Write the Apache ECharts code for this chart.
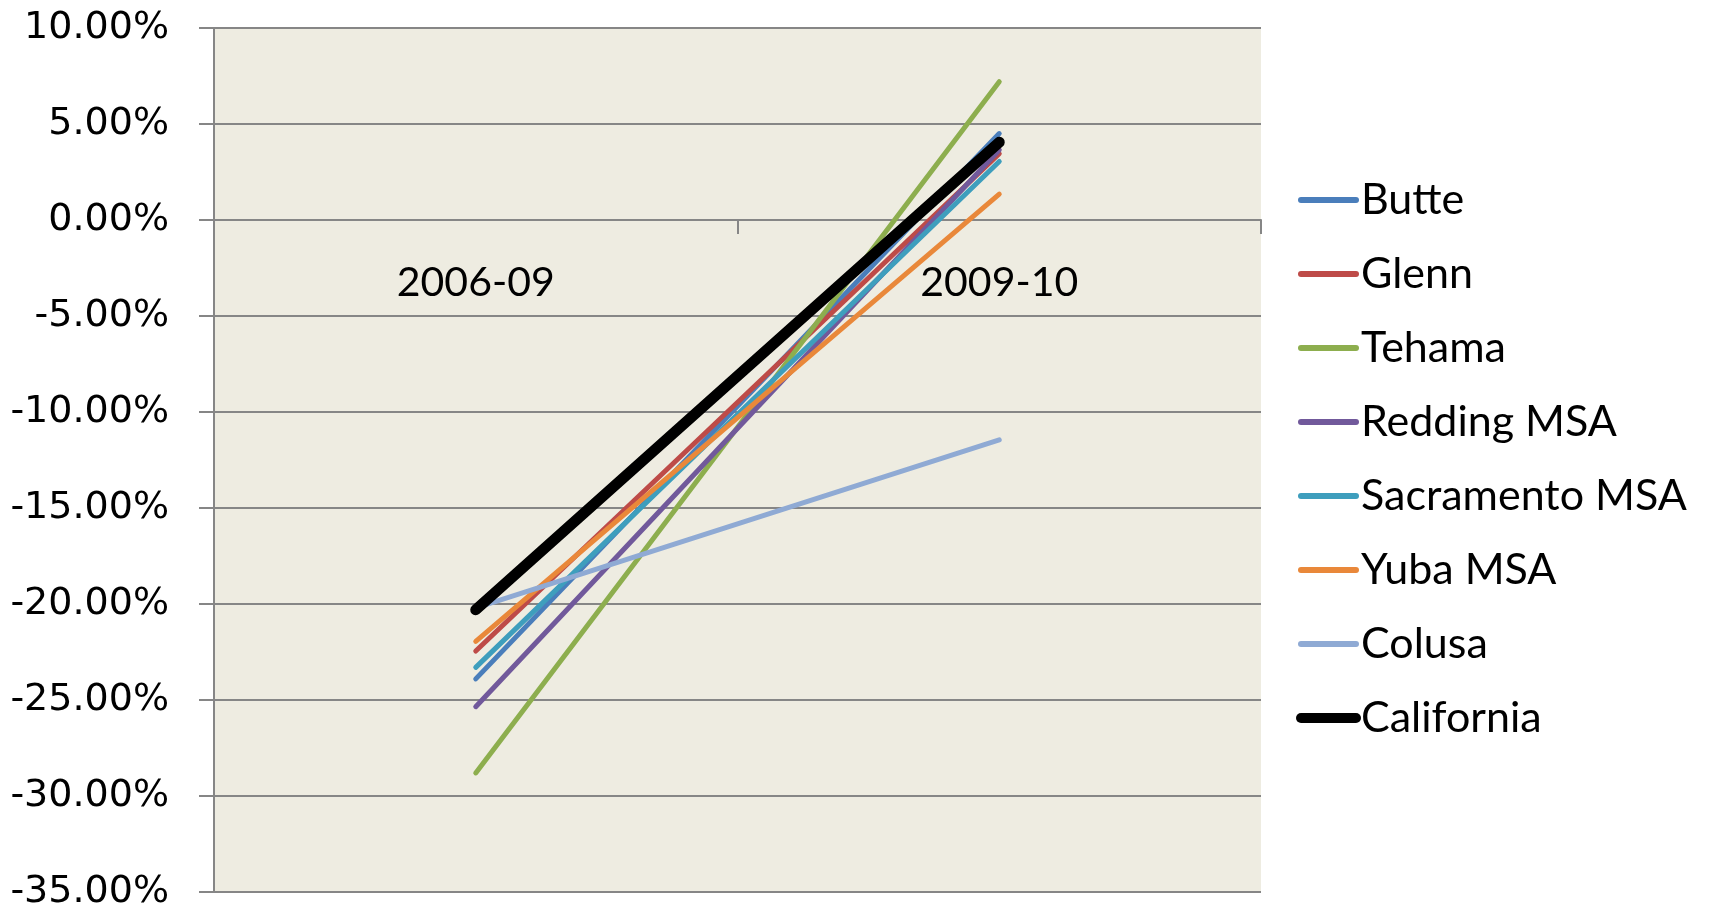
<!DOCTYPE html>
<html>
<head>
<meta charset="utf-8">
<script src="https://cdn.jsdelivr.net/npm/echarts@6/dist/echarts.min.js"></script>
<style>
  html, body { margin: 0; padding: 0; background: #ffffff; }
  #chart { width: 1713px; height: 910px; }
</style>
</head>
<body>
<div id="chart"></div>
<script>
// Percent change by region for two periods
const periods = ['2006-09', '2009-10'];
const butte      = [-23.9, 4.5];
const glenn      = [-22.45, 3.45];
const tehama     = [-28.8, 7.2];
const redding    = [-25.35, 3.65];
const sacramento = [-23.3, 3.05];
const yuba       = [-21.95, 1.35];
const colusa     = [-20.2, -11.45];
const california = [-20.3, 4.05];

const seriesDefs = [
  { name: 'Butte',          data: butte,      color: '#4A7EBB', width: 5 },
  { name: 'Glenn',          data: glenn,      color: '#BE4B48', width: 5 },
  { name: 'Tehama',         data: tehama,     color: '#8DAE4E', width: 5 },
  { name: 'Redding MSA',    data: redding,    color: '#71599B', width: 5 },
  { name: 'Sacramento MSA', data: sacramento, color: '#3E9EBD', width: 5 },
  { name: 'Yuba MSA',       data: yuba,       color: '#E9883A', width: 5 },
  { name: 'Colusa',         data: colusa,     color: '#8FAAD4', width: 5 },
  { name: 'California',     data: california, color: '#000000', width: 11 }
];

const GRID = { left: 214, right: 452, top: 28, bottom: 18 };

const chart = echarts.init(document.getElementById('chart'), null, { renderer: 'canvas' });

function buildOption(xOffset) {
  return {
    animation: false,
    backgroundColor: '#ffffff',
    grid: Object.assign({
      outerBoundsMode: 'none',
      containLabel: false,
      show: true, backgroundColor: '#EEECE1', borderWidth: 0
    }, GRID),
    legend: {
      orient: 'vertical',
      left: 1296,
      top: 178,
      padding: 0,
      itemWidth: 55,
      itemHeight: 14,
      itemGap: 30,
      itemStyle: { opacity: 0 },
      textStyle: {
        fontFamily: 'Lato', fontSize: 43, color: '#000000', lineHeight: 44
      },
      data: seriesDefs.map(s => ({
        name: s.name,
        lineStyle: { color: s.color, width: s.width > 6 ? 10 : 6, cap: 'round' }
      }))
    },
    xAxis: {
      type: 'category',
      data: periods,
      boundaryGap: true,
      position: 'bottom',
      offset: xOffset,
      axisLine: { onZero: false, lineStyle: { color: '#868686', width: 2 } },
      axisTick: { show: true, length: 14, lineStyle: { color: '#868686', width: 2 } },
      axisLabel: {
        margin: 42, fontFamily: 'Lato', fontSize: 41, color: '#000000'
      },
      splitLine: { show: false }
    },
    yAxis: {
      type: 'value',
      min: -35, max: 10, interval: 5,
      axisLine: { show: true, lineStyle: { color: '#868686', width: 2 } },
      axisTick: { show: true, length: 15, lineStyle: { color: '#868686', width: 2 } },
      axisLabel: {
        margin: 45, fontFamily: 'DejaVu Sans', fontSize: 38, color: '#000000',
        formatter: v => v.toFixed(2) + '%'
      },
      splitLine: { show: true, lineStyle: { color: '#868686', width: 2 } }
    },
    series: seriesDefs.map(s => ({
      name: s.name,
      type: 'line',
      data: s.data,
      symbol: 'none',
      color: s.color,
      lineStyle: { color: s.color, width: s.width, cap: 'round', join: 'round' }
    }))
  };
}

// First pass to get the scale, then lift the category axis onto the 0% line
chart.setOption(buildOption(0));
const zeroY = chart.convertToPixel({ yAxisIndex: 0 }, 0);
const bottomY = chart.getHeight() - GRID.bottom;
chart.setOption(buildOption(-(bottomY - zeroY)));
</script>
</body>
</html>
